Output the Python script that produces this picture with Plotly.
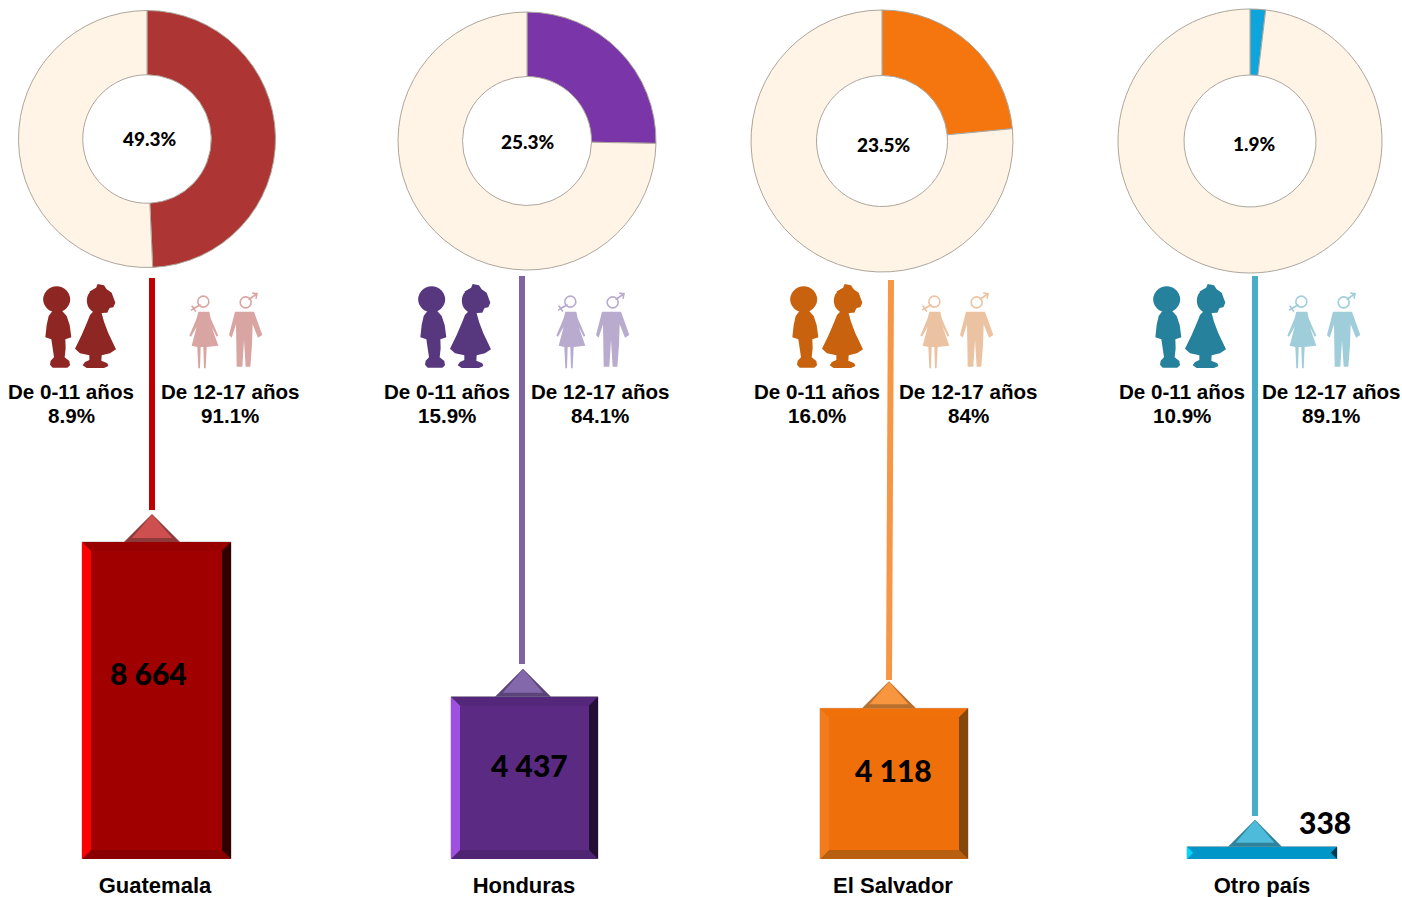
import plotly.graph_objects as go

# ---------- data ----------
countries = ["Guatemala", "Honduras", "El Salvador", "Otro país"]
totals = [8664, 4437, 4118, 338]
share_pct = [49.3, 25.3, 23.5, 1.9]
rest_pct = [50.7, 74.7, 76.5, 98.1]
share_labels = ["49.3%", "25.3%", "23.5%", "1.9%"]
age_groups = ["De 0-11 años", "De 12-17 años"]
child_labels = ["8.9%", "15.9%", "16.0%", "10.9%"]
teen_labels = ["91.1%", "84.1%", "84%", "89.1%"]

# ---------- styles ----------
W, H = 1402, 897
BASE_PX, ROW0, STEP = 859, 155, 369
K = 317 / 8664

main = ["#A00000", "#5B2A83", "#EF6F0A", "#0097C8"]
bevel_l = ["#FF0000", "#A050E0", "#F27C1C", "#00D8FF"]
bevel_r = ["#300000", "#241035", "#85470C", "#003C50"]
bevel_t = ["#980000", "#53277A", "#F0700A", "#0097C8"]
bevel_b = ["#8A0000", "#4F2472", "#B8600F", "#0097C8"]
donut = ["#AD3533", "#7A35A8", "#F5760F", "#0EA5DC"]
tri_dark = ["#8F3A3A", "#5A4478", "#B9702F", "#2E8299"]
tri_mid = ["#CE4F50", "#8468AC", "#F8963F", "#4FBBDA"]
line_c = ["#C00000", "#8064A2", "#F79646", "#4BACC6"]
kid_c = ["#8E2624", "#57387E", "#C8620F", "#25819C"]
adult_c = ["#D9A5A3", "#B9ABCE", "#EBC3A2", "#A0CDDA"]
CREAM = "#FFF4E6"

bar_x = [(82, 231), (451, 598), (820, 968), (1187, 1337)]
conn = [(152, 152, 278, 510), (522, 522, 276, 664), (891, 889, 280, 680), (1255, 1255, 276, 816)]
tri = [(152, 514, 28), (523, 671, 28), (889, 684, 27), (1255, 820, 27)]
pies = [(147, 139, 128.5), (527, 141, 129), (882, 141, 131), (1250, 141, 132)]
share_txt = [(150, 139), (528, 142), (884, 144), (1254, 143)]
value_txt = [(148, 673), (529, 765), (893, 770), (1325, 822)]
lab_x = [(71, 230), (447, 600), (817, 968), (1182, 1331)]
kid_dx = [0, 375, 747, 1110]
adult_dx = [0, 367, 731, 1098]


def xv(px):
    return (px - ROW0) / STEP


def yv(py):
    return (BASE_PX - py) / K


fig = go.Figure()


def poly(xs, ys, color):
    fig.add_trace(go.Scatter(x=xs, y=ys, mode="lines", fill="toself", fillcolor=color,
                             line=dict(width=0, color=color), hoverinfo="skip", showlegend=False))


for i, v in enumerate(totals):
    x0, x1 = bar_x[i]
    fig.add_trace(go.Bar(x=[xv((x0 + x1) / 2)], y=[v], width=[(x1 - x0) / STEP],
                         marker=dict(color=main[i], line=dict(width=1, color="#B8B8B8")),
                         hoverinfo="y", showlegend=False))
    b_y = min(9 / K, v / 2)
    b_px = min(9, v * K / 2)
    xa, xb, xc, xd = xv(x0), xv(x0 + b_px), xv(x1 - b_px), xv(x1)
    poly([xa, xd, xc, xb, xa], [v, v, v - b_y, v - b_y, v], bevel_t[i])
    poly([xa, xd, xc, xb, xa], [0, 0, b_y, b_y, 0], bevel_b[i])
    poly([xa, xa, xb, xb, xa], [0, v, v - b_y, b_y, 0], bevel_l[i])
    poly([xd, xd, xc, xc, xd], [0, v, v - b_y, b_y, 0], bevel_r[i])
    # connector
    ax, bx, top, bot = conn[i]
    fig.add_trace(go.Scatter(x=[xv(ax), xv(bx)], y=[yv(top), yv(bot)], mode="lines",
                             line=dict(color=line_c[i], width=6), hoverinfo="skip", showlegend=False))
    # triangle sitting on the bar
    cx, apex, h = tri[i]
    hw = h
    poly([xv(cx - hw), xv(cx), xv(cx + hw), xv(cx - hw)], [v, v + h / K, v, v], tri_dark[i])
    poly([xv(cx - hw * 0.72), xv(cx), xv(cx + hw * 0.72), xv(cx - hw * 0.72)],
         [v + 4 / K, v + (h - 0.5) / K, v + 4 / K, v + 4 / K], tri_mid[i])

for i, (cx, cy, r) in enumerate(pies):
    fig.add_trace(go.Pie(values=[share_pct[i], rest_pct[i]], labels=[countries[i], "Resto"],
                         hole=0.5, sort=False, direction="clockwise", rotation=0,
                         marker=dict(colors=[donut[i], CREAM], line=dict(color="#ADA69C", width=1)),
                         textinfo="none", showlegend=False,
                         domain=dict(x=[(cx - r) / W, (cx + r) / W],
                                     y=[1 - (cy + r) / H, 1 - (cy - r) / H])))

anns = []


def note(px, py, text, size, font="Liberation Sans", weight=700):
    anns.append(dict(x=px / W, y=1 - py / H, xref="paper", yref="paper", text=text,
                     showarrow=False, xanchor="center", yanchor="middle",
                     font=dict(size=size, family=font, color="#000000", weight=weight)))


for i in range(4):
    note(*share_txt[i], share_labels[i], 19, "Lato", 900)
    note(*value_txt[i], f"{totals[i]:,}".replace(",", " "), 30, "Lato", 900)
    lx, rx = lab_x[i]
    note(lx, 391, age_groups[0], 20.6)
    note(lx, 415, child_labels[i], 20.6)
    note(rx, 391, age_groups[1], 20.6)
    note(rx, 415, teen_labels[i], 20.6)

# ---------- pictograms ----------
shapes = []


def path_shape(points, color):
    d = "M " + " L ".join(f"{x / W:.5f},{1 - y / H:.5f}" for x, y in points) + " Z"
    shapes.append(dict(type="path", path=d, xref="paper", yref="paper", fillcolor=color,
                       line=dict(width=0), layer="above"))


def oval(cx, cy, rx, ry, fill, line=None, lw=0):
    shapes.append(dict(type="circle", xref="paper", yref="paper",
                       x0=(cx - rx) / W, x1=(cx + rx) / W,
                       y0=1 - (cy + ry) / H, y1=1 - (cy - ry) / H,
                       fillcolor=fill, line=dict(width=lw, color=line or "rgba(0,0,0,0)"), layer="above"))


BOY = [(68, 92), (96, 92), (110, 108), (119, 135), (124, 172), (106, 178), (107, 205), (104, 232), (118, 243),
       (120, 256), (112, 263), (68, 263), (60, 254), (62, 242), (72, 232), (68, 205), (64, 178), (46, 172),
       (50, 135), (56, 108)]
GIRL = [(192, 92), (215, 100), (222, 125), (235, 160), (258, 208), (240, 220), (215, 226), (214, 242),
        (232, 250), (235, 258), (222, 264), (170, 264), (158, 256), (165, 246), (178, 240), (178, 226),
        (150, 220), (135, 206), (155, 165), (172, 125), (180, 105)]
HAIR = [(178, 35), (198, 24), (203, 12), (222, 16), (230, 28), (245, 38), (256, 68), (250, 82), (238, 84),
        (232, 98), (215, 98), (205, 60)]
WOMAN = [(55, 80), (88, 80), (92, 100), (115, 152), (110, 155), (95, 125), (115, 182), (80, 186), (77, 250),
         (72, 250), (70, 186), (62, 186), (60, 250), (55, 250), (52, 186), (35, 182), (50, 125), (33, 155),
         (28, 152), (50, 100)]
MAN = [(165, 80), (222, 80), (247, 150), (234, 158), (218, 118), (216, 180), (211, 245), (197, 245),
       (192, 165), (187, 245), (170, 245), (168, 118), (155, 158), (147, 150)]
VENUS = [(60, 57), (64, 61), (44, 72), (50, 78), (46, 81), (40, 74), (34, 78), (32, 74), (38, 70), (33, 64),
         (37, 61), (42, 67)]
MARS = [(204, 42), (224, 28), (216, 26), (217, 22), (234, 24), (230, 42), (226, 41), (227, 32), (208, 46)]

for i in range(4):
    kx, ax = kid_dx[i], adult_dx[i]
    kp = lambda pts: [(30 + kx + x / 3, 280 + y / 3) for x, y in pts]
    ap = lambda pts: [(180 + ax + x / 3, 285 + y / 3) for x, y in pts]
    path_shape(kp(BOY), kid_c[i])
    path_shape(kp(GIRL), kid_c[i])
    path_shape(kp(HAIR), kid_c[i])
    oval(30 + kx + 80 / 3, 280 + 58 / 3, 13.5, 13, kid_c[i])
    oval(30 + kx + 208 / 3, 280 + 62 / 3, 12.5, 13, kid_c[i])
    path_shape(ap(WOMAN), adult_c[i])
    path_shape(ap(MAN), adult_c[i])
    path_shape(ap(VENUS), adult_c[i])
    path_shape(ap(MARS), adult_c[i])
    oval(180 + ax + 70 / 3, 285 + 50 / 3, 5.5, 5.5, "rgba(255,255,255,0)", adult_c[i], 1.6)
    oval(180 + ax + 197 / 3, 285 + 52 / 3, 5.5, 5.5, "rgba(255,255,255,0)", adult_c[i], 1.6)

fig.update_layout(
    width=W, height=H, margin=dict(l=0, r=0, t=0, b=0), autosize=False,
    paper_bgcolor="#FFFFFF", plot_bgcolor="#FFFFFF", showlegend=False, barmode="overlay",
    annotations=anns, shapes=shapes,
    xaxis=dict(range=[xv(0), xv(W)], domain=[0, 1], tickvals=[0, 1, 2, 3], ticktext=countries,
               automargin=False, showgrid=False, zeroline=False, showline=False, ticks="outside", ticklen=7,
               tickcolor="rgba(0,0,0,0)",
               tickfont=dict(size=22, family="Liberation Sans", color="#000000", weight=700)),
    yaxis=dict(range=[0, yv(0)], domain=[1 - BASE_PX / H, 1], visible=False, automargin=False),
)
fig.write_html("out.html", config=dict(displayModeBar=False),
               post_script="document.body.style.margin='0';document.body.style.overflow='hidden';")
